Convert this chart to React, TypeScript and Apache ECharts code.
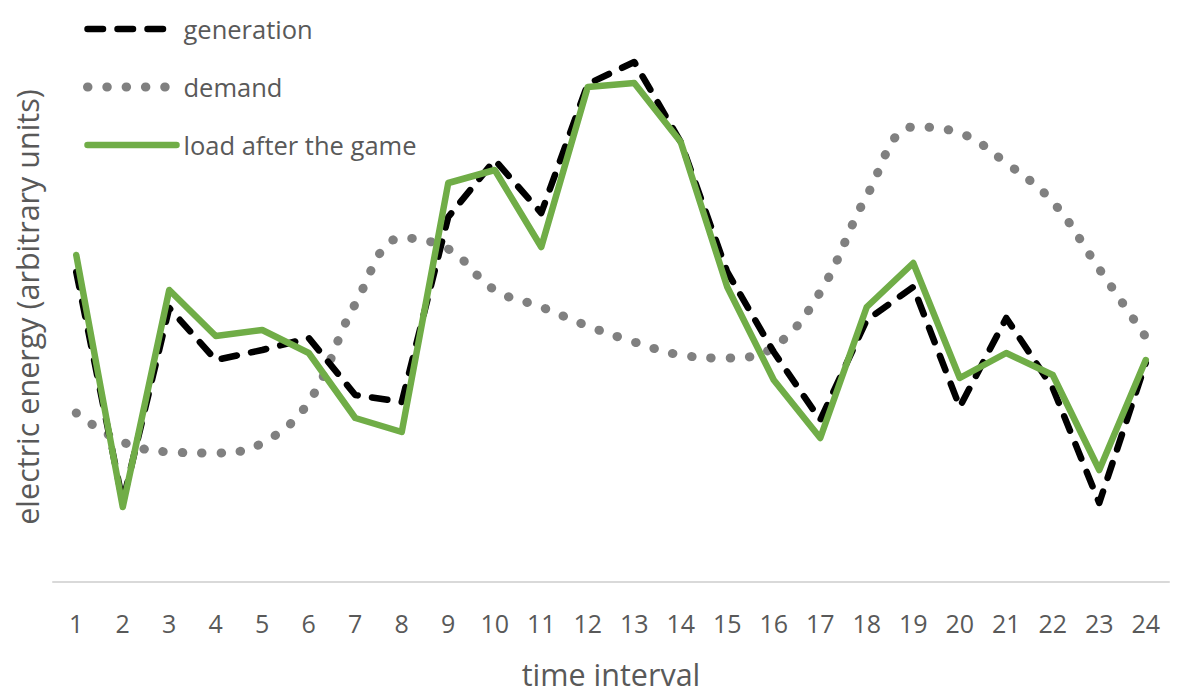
import React, { useEffect, useRef } from "react";
import * as echarts from "echarts";

// Time intervals along the x axis
const intervals = Array.from({ length: 24 }, (_, i) => String(i + 1));

// Energy per interval (arbitrary units)
const generation = [
  62, 16, 54.8, 44.4, 46.4, 48.8, 37.4, 36, 73, 84.4, 73.8, 99.6,
  104, 88, 62, 46, 32.4, 52.4, 59, 35, 52.8, 38.8, 15.8, 43.8,
];
const demand = [
  33.8, 28, 26, 25.8, 27.8, 36, 55.6, 68.8, 66.6, 58.4, 55, 51.2,
  48, 45.4, 44.8, 47, 58, 77.2, 91, 89.8, 83.8, 76, 62.6, 49,
];
const loadAfterGame = [
  65.4, 15, 58.4, 49.2, 50.4, 45.8, 32.8, 30, 79.8, 82.4, 67, 99,
  99.8, 88, 59, 40.4, 28.8, 55, 63.8, 40.8, 45.8, 41.4, 22.4, 44.4,
];

const FONT = "'Open Sans', 'Noto Sans', sans-serif";
const TEXT = "#595959";

const genLine = { color: "#000000", width: 6.5, type: [15.5, 14.5], cap: "round", join: "round" };
const demandLine = { color: "#808080", width: 9, type: [0.5, 18.8], cap: "round", join: "round" };
const loadLine = { color: "#70ad47", width: 6.5, type: "solid", cap: "round", join: "round" };

export default function App() {
  const ref = useRef<HTMLDivElement>(null);

  useEffect(() => {
    if (!ref.current) return;
    const chart = echarts.init(ref.current, undefined, { renderer: "svg" });
    chart.setOption({
      animation: false,
      backgroundColor: "#ffffff",
      grid: {
        left: 53,
        right: 11,
        top: 32,
        bottom: 113,
        containLabel: false,
        outerBoundsMode: "none",
      },
      legend: {
        orient: "vertical",
        left: 83,
        top: 16,
        padding: 0,
        itemWidth: 89,
        itemHeight: 14,
        itemGap: 32,
        textStyle: {
          fontFamily: FONT,
          fontSize: 25.5,
          lineHeight: 25,
          color: TEXT,
          padding: [0, 0, 0, 2],
        },
        data: [
          { name: "generation", lineStyle: genLine, itemStyle: { opacity: 0 } },
          { name: "demand", lineStyle: demandLine, itemStyle: { opacity: 0 } },
          { name: "load after the game", lineStyle: loadLine, itemStyle: { opacity: 0 } },
        ],
      },
      xAxis: {
        type: "category",
        data: intervals,
        boundaryGap: true,
        axisLine: { show: true, lineStyle: { color: "#d9d9d9", width: 2 } },
        axisTick: { show: false },
        axisLabel: { fontFamily: FONT, fontSize: 25, color: TEXT, margin: 28, interval: 0 },
        name: "time interval",
        nameLocation: "middle",
        nameGap: 76,
        nameTextStyle: { fontFamily: FONT, fontSize: 30.5, color: TEXT },
      },
      yAxis: {
        type: "value",
        min: 0,
        max: 110,
        axisLine: { show: false },
        axisTick: { show: false },
        axisLabel: { show: false },
        splitLine: { show: false },
        name: "electric energy (arbitrary units)",
        nameLocation: "middle",
        nameGap: 11,
        nameTextStyle: { fontFamily: FONT, fontSize: 30.5, color: TEXT },
      },
      series: [
        {
          name: "generation",
          type: "line",
          data: generation,
          symbol: "none",
          color: "#000000",
          lineStyle: genLine,
          z: 2,
        },
        {
          name: "demand",
          type: "line",
          data: demand,
          symbol: "none",
          smooth: 0.4,
          color: "#808080",
          lineStyle: demandLine,
          z: 1,
        },
        {
          name: "load after the game",
          type: "line",
          data: loadAfterGame,
          symbol: "none",
          color: "#70ad47",
          lineStyle: loadLine,
          z: 3,
        },
      ],
    });
    return () => chart.dispose();
  }, []);

  return (
    <div
      ref={ref}
      style={{ position: "absolute", left: 0, top: 0, width: 1180, height: 695 }}
    />
  );
}
